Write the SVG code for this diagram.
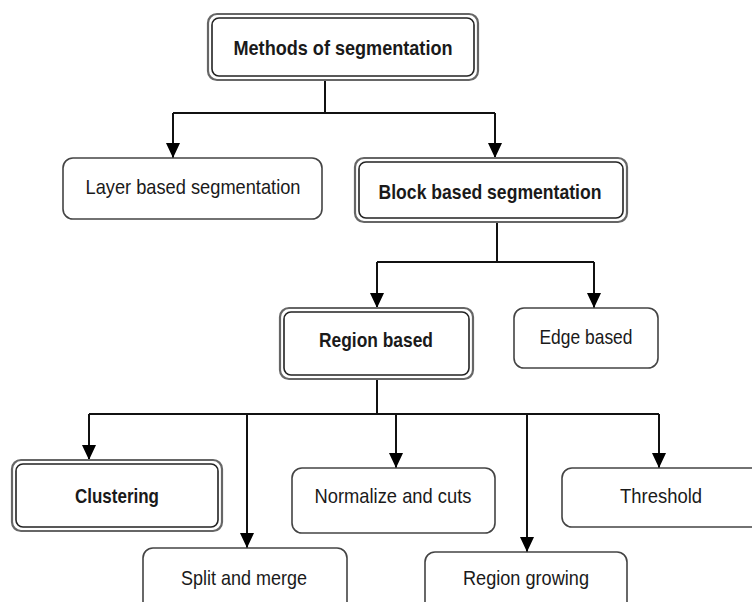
<svg xmlns="http://www.w3.org/2000/svg" width="752" height="602" viewBox="0 0 752 602">
<defs>
<marker id="ah" markerUnits="userSpaceOnUse" markerWidth="16" markerHeight="14" refX="15" refY="7" orient="auto" viewBox="0 0 16 14">
<path d="M0,0 L15,7 L0,14 Z" fill="#000"/>
</marker>
<style>
.box{fill:#fff;stroke:#444;stroke-width:1.6}
.outer{fill:#fff;stroke:#666;stroke-width:2.2}
.inner{fill:none;stroke:#222;stroke-width:1.6}
.t{font-family:"Liberation Sans",Arial,sans-serif;font-size:21px;fill:#1a1a1a;text-anchor:middle}
.b{font-weight:bold}
.ln{fill:none;stroke:#111;stroke-width:2}
.ar{fill:none;stroke:#111;stroke-width:2;marker-end:url(#ah)}
</style>
</defs>
<rect width="752" height="602" fill="#fff"/>
<g id="connectors">
<path class="ln" d="M325,80 V113 M173,113 H495"/>
<path class="ar" d="M173,113 V158"/>
<path class="ar" d="M495,113 V158"/>
<path class="ln" d="M497,222 V262 M377,262 H594"/>
<path class="ar" d="M377,262 V308"/>
<path class="ar" d="M594,262 V308"/>
<path class="ln" d="M377,379 V414 M89,414 H659"/>
<path class="ar" d="M89,414 V460"/>
<path class="ar" d="M247,414 V548"/>
<path class="ar" d="M396,414 V468"/>
<path class="ar" d="M527,414 V552"/>
<path class="ar" d="M659,414 V468"/>
</g>
<g id="methods">
<rect class="outer" x="208" y="14" width="270" height="66" rx="9"/>
<rect class="inner" x="212" y="18" width="262" height="58" rx="7"/>
<text class="t b" x="343" y="55" textLength="219" lengthAdjust="spacingAndGlyphs">Methods of segmentation</text>
</g>
<g id="layer">
<rect class="box" x="63" y="158" width="259" height="61" rx="10"/>
<text class="t" x="193" y="194" textLength="215" lengthAdjust="spacingAndGlyphs">Layer based segmentation</text>
</g>
<g id="block">
<rect class="outer" x="355" y="158" width="272" height="64" rx="9"/>
<rect class="inner" x="359" y="162" width="264" height="56" rx="7"/>
<text class="t b" x="490" y="199" textLength="223" lengthAdjust="spacingAndGlyphs">Block based segmentation</text>
</g>
<g id="region">
<rect class="outer" x="280" y="308" width="193" height="71" rx="9"/>
<rect class="inner" x="284" y="312" width="185" height="63" rx="7"/>
<text class="t b" x="376" y="347" textLength="114" lengthAdjust="spacingAndGlyphs">Region based</text>
</g>
<g id="edge">
<rect class="box" x="514" y="308" width="144" height="60" rx="10"/>
<text class="t" x="586" y="344" textLength="93" lengthAdjust="spacingAndGlyphs">Edge based</text>
</g>
<g id="clustering">
<rect class="outer" x="12" y="460" width="210" height="71" rx="9"/>
<rect class="inner" x="16" y="464" width="202" height="63" rx="7"/>
<text class="t b" x="117" y="503" textLength="84" lengthAdjust="spacingAndGlyphs">Clustering</text>
</g>
<g id="normalize">
<rect class="box" x="292" y="468" width="203" height="65" rx="10"/>
<text class="t" x="393" y="503" textLength="157" lengthAdjust="spacingAndGlyphs">Normalize and cuts</text>
</g>
<g id="threshold">
<rect class="box" x="562" y="468" width="200" height="59" rx="10"/>
<text class="t" x="661" y="503" textLength="82" lengthAdjust="spacingAndGlyphs">Threshold</text>
</g>
<g id="split">
<rect class="box" x="143" y="548" width="204" height="70" rx="10"/>
<text class="t" x="244" y="585" textLength="126" lengthAdjust="spacingAndGlyphs">Split and merge</text>
</g>
<g id="growing">
<rect class="box" x="425" y="552" width="202" height="66" rx="10"/>
<text class="t" x="526" y="585" textLength="126" lengthAdjust="spacingAndGlyphs">Region growing</text>
</g>
</svg>
